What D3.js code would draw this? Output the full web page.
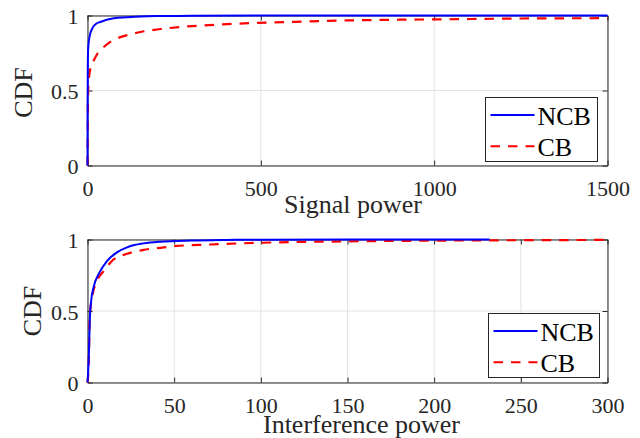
<!DOCTYPE html>
<html>
<head>
<meta charset="utf-8">
<script src="https://cdn.jsdelivr.net/npm/d3@7"></script>
<style>
  html, body { margin: 0; padding: 0; background: #fff; }
  svg { display: block; }
  svg text { font-family: "Liberation Serif", "Times New Roman", serif !important; }
</style>
</head>
<body>
<svg id="chart" width="640" height="438"></svg>
<script>
// ---------- data ----------
const seriesNames = ["NCB", "CB"];

// Top panel: signal power
const signalTicks = [0, 500, 1000, 1500];
const signalNCB_x = [0, 0.3, 1, 2, 4, 8, 13, 18, 25, 37, 55, 76, 114, 153, 200, 300, 500, 1500];
const signalNCB_y = [0, 0.4, 0.7, 0.78, 0.83, 0.88, 0.91, 0.93, 0.945, 0.957, 0.972, 0.982, 0.988, 0.993, 0.996, 0.998, 1, 1];
const signalCB_x = [0, 0.5, 1, 2, 4, 7, 12, 18, 30, 47, 70, 95, 125, 153, 211, 288, 384, 470, 600, 749, 900, 1000, 1249, 1500];
const signalCB_y = [0, 0.15, 0.35, 0.5, 0.58, 0.63, 0.67, 0.70, 0.75, 0.79, 0.83, 0.856, 0.875, 0.89, 0.91, 0.927, 0.94, 0.949, 0.958, 0.967, 0.972, 0.974, 0.98, 0.982];

// Bottom panel: interference power
const interfTicks = [0, 50, 100, 150, 200, 250, 300];
const interfNCB_x = [0, 0.4, 0.8, 1.3, 2.1, 3.6, 6.5, 11.3, 17, 22.8, 32.4, 42, 60, 80, 100, 150, 232];
const interfNCB_y = [0, 0.08, 0.2, 0.43, 0.57, 0.67, 0.76, 0.85, 0.91, 0.945, 0.973, 0.985, 0.993, 0.997, 0.999, 1, 1];
const interfCB_x = [0, 0.4, 0.77, 1.3, 2.7, 5.5, 9.4, 15, 22.8, 32.4, 42, 50, 70.7, 99.4, 150, 200, 250, 300];
const interfCB_y = [0, 0.05, 0.15, 0.46, 0.6, 0.71, 0.78, 0.86, 0.9, 0.928, 0.942, 0.953, 0.965, 0.977, 0.987, 0.992, 0.995, 0.997];

const cdfTicks = [0, 0.5, 1];
const cdfTickLabels = ["0", "0.5", "1"];

// ---------- drawing ----------
const svg = d3.select("#chart");
const AX = "#262626";
const GRID = "#e3e3e3";
const FONT = "'Liberation Serif', 'Times New Roman', serif";
const colors = { NCB: "#0000ff", CB: "#ff0000" };

function zip(xs, ys) { return xs.map((x, i) => ({ x: x, y: ys[i] })); }

function panel(cfg) {
  const x = d3.scaleLinear().domain([cfg.xTicks[0], cfg.xTicks[cfg.xTicks.length - 1]]).range([cfg.left, cfg.right]);
  const y = d3.scaleLinear().domain([0, 1]).range([cfg.bottom, cfg.top]);
  const g = svg.append("g");

  g.append("rect").attr("x", cfg.left).attr("y", cfg.top)
    .attr("width", cfg.right - cfg.left).attr("height", cfg.bottom - cfg.top).attr("fill", "#fff");

  // grid
  g.append("g").selectAll("line").data(cfg.xTicks).join("line")
    .attr("x1", d => x(d)).attr("x2", d => x(d)).attr("y1", cfg.top).attr("y2", cfg.bottom)
    .attr("stroke", GRID).attr("stroke-width", 1);
  g.append("g").selectAll("line").data(cdfTicks).join("line")
    .attr("y1", d => y(d)).attr("y2", d => y(d)).attr("x1", cfg.left).attr("x2", cfg.right)
    .attr("stroke", GRID).attr("stroke-width", 1);

  // axes (inward ticks, all four sides)
  const fmtY = (d, i) => cdfTickLabels[i];
  const bottomAx = d3.axisBottom(x).tickValues(cfg.xTicks).tickSizeInner(-5).tickSizeOuter(0).tickPadding(0).tickFormat(d3.format("d"));
  const topAx = d3.axisTop(x).tickValues(cfg.xTicks).tickSizeInner(-5).tickSizeOuter(0).tickFormat("");
  const leftAx = d3.axisLeft(y).tickValues(cdfTicks).tickSizeInner(-5).tickSizeOuter(0).tickFormat(fmtY);
  const rightAx = d3.axisRight(y).tickValues(cdfTicks).tickSizeInner(-5).tickSizeOuter(0).tickFormat("");

  const gb = g.append("g").attr("transform", `translate(0,${cfg.bottom})`).call(bottomAx);
  const gt = g.append("g").attr("transform", `translate(0,${cfg.top})`).call(topAx);
  const gl = g.append("g").attr("transform", `translate(${cfg.left},0)`).call(leftAx);
  const gr = g.append("g").attr("transform", `translate(${cfg.right},0)`).call(rightAx);
  [gb, gt, gl, gr].forEach(a => {
    a.attr("font-family", FONT).attr("font-size", 22);
    a.select(".domain").attr("stroke", AX).attr("stroke-width", 1);
    a.selectAll(".tick line").attr("stroke", AX).attr("stroke-width", 1);
  });
  gb.selectAll("text").attr("dy", null).attr("y", 30)
    .style("font-family", FONT).style("font-size", "22px").attr("fill", AX);
  gl.selectAll("text").attr("dy", null).attr("x", -9).attr("y", 8)
    .style("font-family", FONT).style("font-size", "22px").attr("fill", AX).attr("text-anchor", "end");

  // curves
  const line = d3.line().x(d => x(d.x)).y(d => y(d.y)).curve(d3.curveMonotoneX);
  g.append("path").datum(zip(cfg.cbX, cfg.cbY)).attr("d", line)
    .attr("fill", "none").attr("stroke", colors.CB).attr("stroke-width", 2.2)
    .attr("stroke-dasharray", "9.5,8");
  g.append("path").datum(zip(cfg.ncbX, cfg.ncbY)).attr("d", line)
    .attr("fill", "none").attr("stroke", colors.NCB).attr("stroke-width", 2);

  // labels
  svg.append("text").attr("x", cfg.xlabelX).attr("y", cfg.xlabelY).attr("text-anchor", "middle")
    .style("font-family", FONT).style("font-size", "26px").attr("fill", AX).text(cfg.xlabel);
  svg.append("text").attr("transform", `translate(${cfg.ylabelX},${cfg.ylabelY}) rotate(-90)`)
    .attr("text-anchor", "middle").style("font-family", FONT).style("font-size", "26px")
    .attr("fill", AX).text("CDF");

  // legend
  const L = cfg.legend;
  const lg = svg.append("g");
  lg.append("rect").attr("x", L.x).attr("y", L.y).attr("width", L.w).attr("height", L.h)
    .attr("fill", "#fff").attr("stroke", AX).attr("stroke-width", 1);
  seriesNames.forEach((name, i) => {
    const ly = L.y + 17.5 + i * 31.3;
    lg.append("line").attr("x1", L.x + 5).attr("x2", L.x + 49).attr("y1", ly).attr("y2", ly)
      .attr("stroke", colors[name]).attr("stroke-width", 2)
      .attr("stroke-dasharray", name === "CB" ? "9.5,8" : null);
    lg.append("text").attr("x", L.x + 52).attr("y", ly + 9.5)
      .style("font-family", FONT).style("font-size", "26px")
      .attr("fill", "#000").text(name);
  });
}

panel({
  left: 87.5, right: 607.5, top: 15.5, bottom: 165.5,
  xTicks: signalTicks,
  ncbX: signalNCB_x, ncbY: signalNCB_y, cbX: signalCB_x, cbY: signalCB_y,
  xlabel: "Signal power", xlabelX: 353, xlabelY: 213,
  ylabelX: 32, ylabelY: 92.5,
  legend: { x: 485.5, y: 97.5, w: 112, h: 64 }
});

panel({
  left: 87.5, right: 607.5, top: 239.5, bottom: 382.5,
  xTicks: interfTicks,
  ncbX: interfNCB_x, ncbY: interfNCB_y, cbX: interfCB_x, cbY: interfCB_y,
  xlabel: "Interference power", xlabelX: 361.5, xlabelY: 433,
  ylabelX: 40.5, ylabelY: 311,
  legend: { x: 488.5, y: 313.5, w: 111, h: 64 }
});
</script>
</body>
</html>
